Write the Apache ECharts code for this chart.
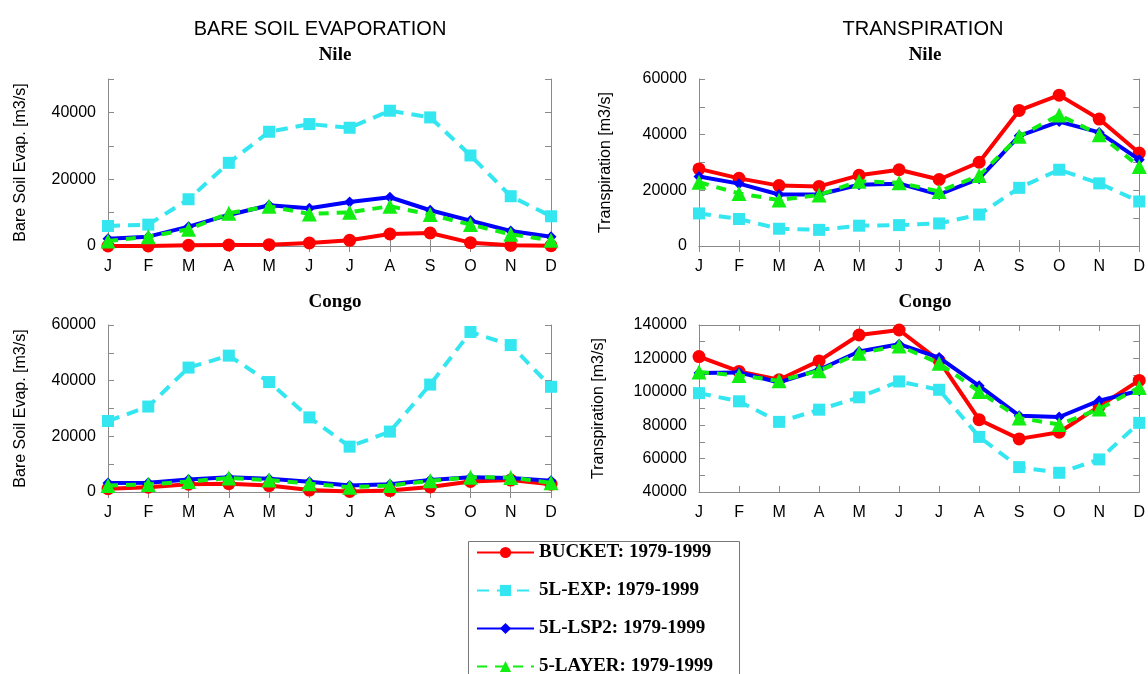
<!DOCTYPE html>
<html>
<head>
<meta charset="utf-8">
<script src="https://cdn.jsdelivr.net/npm/echarts@6/dist/echarts.min.js"></script>
<style>
html,body{margin:0;padding:0;background:#fff;}
#chart{width:1148px;height:674px;}
</style>
</head>
<body>
<div id="chart"></div>
<script>
const months = ['J','F','M','A','M','J','J','A','S','O','N','D'];
const seriesNames = ['BUCKET: 1979-1999','5L-EXP: 1979-1999','5L-LSP2: 1979-1999','5-LAYER: 1979-1999'];

// Nile - bare soil evaporation
const nileEvapBucket = [0, 0, 200, 300, 400, 900, 1700, 3600, 3900, 1000, 200, 100];
const nileEvapExp    = [6000, 6400, 14000, 24900, 34200, 36500, 35400, 40500, 38500, 27100, 14900, 8900];
const nileEvapLsp2   = [2200, 2800, 5800, 9300, 12200, 11300, 13200, 14600, 10700, 7600, 4500, 2800];
const nileEvapLayer  = [1500, 2800, 5000, 9800, 11900, 9600, 10100, 11900, 9400, 6400, 3500, 1700];

// Nile - transpiration
const nileTranBucket = [27700, 24300, 21700, 21400, 25400, 27400, 23900, 30100, 48700, 54200, 45600, 33400];
const nileTranExp    = [11700, 9700, 6200, 5800, 7300, 7500, 8100, 11300, 20900, 27400, 22500, 16000];
const nileTranLsp2   = [25000, 22400, 18500, 18500, 22000, 22400, 18500, 24200, 39600, 44700, 40800, 31000];
const nileTranLayer  = [22900, 18900, 16500, 18300, 23300, 22700, 19600, 25300, 39400, 47100, 40000, 28600];

// Congo - bare soil evaporation
const congoEvapBucket = [1200, 1700, 2800, 3000, 2300, 700, 200, 500, 1800, 3800, 4300, 2800];
const congoEvapExp    = [25500, 30700, 44700, 49000, 39500, 26800, 16300, 21700, 38600, 57500, 52800, 37800];
const congoEvapLsp2   = [3200, 3300, 4500, 5300, 4800, 3700, 2300, 2800, 4300, 5300, 5000, 4000];
const congoEvapLayer  = [2300, 2700, 3800, 5000, 4300, 3000, 1700, 2300, 4000, 5300, 5200, 3300];

// Congo - transpiration
const congoTranBucket = [121100, 112200, 107200, 118500, 134000, 137000, 118700, 83300, 71800, 75800, 91300, 106800];
const congoTranExp    = [99200, 94300, 82000, 89300, 96700, 106200, 101200, 73000, 54900, 51500, 59500, 81400];
const congoTranLsp2   = [111200, 111600, 105600, 113200, 124100, 128500, 120500, 103600, 85700, 84900, 94700, 100600];
const congoTranLayer  = [111800, 109800, 106600, 112600, 123100, 127500, 117100, 100200, 84300, 80400, 89700, 102600];

// y-axis ranges per panel
const yMins = [0, 0, 0, 40000];
const yMaxs = [50000, 60000, 60000, 140000];
const yNames = ['Bare Soil Evap. [m3/s]', 'Transpiration [m3/s]', 'Bare Soil Evap. [m3/s]', 'Transpiration [m3/s]'];

const panelData = [
  [nileEvapBucket, nileEvapExp, nileEvapLsp2, nileEvapLayer],
  [nileTranBucket, nileTranExp, nileTranLsp2, nileTranLayer],
  [congoEvapBucket, congoEvapExp, congoEvapLsp2, congoEvapLayer],
  [congoTranBucket, congoTranExp, congoTranLsp2, congoTranLayer]
];

const grids = [
  {left: 108, top: 79, width: 443, height: 167},
  {left: 699, top: 79, width: 442, height: 167},
  {left: 108, top: 325, width: 443, height: 167},
  {left: 699, top: 325, width: 442, height: 167}
];
const nameGaps = [79, 85, 79, 92];

const boxColor = '#8a8a8a';
const sans = 'Liberation Sans, Arial, Helvetica, sans-serif';
const serif = 'Liberation Serif, Times New Roman, serif';

const styles = [
  {color: '#ff0000', symbol: 'circle', symbolSize: 13, type: 'solid', width: 4},
  {color: '#33e6f0', symbol: 'rect', symbolSize: 12, type: [12, 8], width: 4},
  {color: '#0000ff', symbol: 'diamond', symbolSize: 11, type: 'solid', width: 4},
  {color: '#11ee11', symbol: 'triangle', symbolSize: 15, type: [10, 8], width: 4}
];

const xAxes = [], yAxes = [], series = [];
grids.forEach((g, i) => {
  xAxes.push({
    type: 'category', gridIndex: i, data: months, boundaryGap: false, position: 'bottom',
    axisLine: {show: true, lineStyle: {color: boxColor, width: 1}},
    axisTick: {show: true, inside: true, length: 6, lineStyle: {color: boxColor}},
    axisLabel: {color: '#000', fontSize: 16, fontFamily: sans, margin: 13, interval: 0},
    splitLine: {show: false}
  });
  xAxes.push({
    type: 'category', gridIndex: i, data: months, boundaryGap: false, position: 'top',
    axisLine: {show: true, lineStyle: {color: boxColor, width: 1}},
    axisTick: {show: true, inside: true, length: 6, lineStyle: {color: boxColor}, interval: 0},
    axisLabel: {show: false},
    splitLine: {show: false}
  });
  yAxes.push({
    type: 'value', gridIndex: i, min: yMins[i], max: yMaxs[i], interval: 10000, position: 'left',
    name: yNames[i], nameLocation: 'middle', nameGap: nameGaps[i],
    nameTextStyle: {color: '#000', fontSize: 16, fontFamily: sans},
    axisLine: {show: true, lineStyle: {color: boxColor, width: 1}},
    axisTick: {show: true, inside: true, length: 6, lineStyle: {color: boxColor}},
    axisLabel: {color: '#000', fontSize: 16, fontFamily: sans, margin: 12,
      formatter: v => (v % 20000 === 0 ? String(v) : '')},
    splitLine: {show: false}
  });
  yAxes.push({
    type: 'value', gridIndex: i, min: yMins[i], max: yMaxs[i], interval: 10000, position: 'right',
    axisLine: {show: true, lineStyle: {color: boxColor, width: 1}},
    axisTick: {show: true, inside: true, length: 6, lineStyle: {color: boxColor}},
    axisLabel: {show: false},
    splitLine: {show: false}
  });
  panelData[i].forEach((d, k) => {
    const s = styles[k];
    series.push({
      name: seriesNames[k], type: 'line', xAxisIndex: 2 * i, yAxisIndex: 2 * i,
      data: d, symbol: s.symbol, symbolSize: s.symbolSize, showSymbol: true,
      lineStyle: {color: s.color, width: s.width, type: s.type},
      itemStyle: {color: s.color, borderWidth: 0},
      z: 2 + k, animation: false
    });
  });
});

const legends = seriesNames.map((nm, k) => ({
  data: [nm], orient: 'vertical', left: 476, top: 543 + k * 38,
  itemWidth: 57, itemHeight: 14, padding: 0,
  textStyle: {fontFamily: serif, fontWeight: 'bold', fontSize: 19, color: '#000'}
}));

const chart = echarts.init(document.getElementById('chart'), null, {renderer: 'canvas'});
chart.setOption({
  backgroundColor: '#fff',
  animation: false,
  title: [
    {text: 'BARE SOIL EVAPORATION', left: 315, top: 14, textAlign: 'center',
      textStyle: {fontFamily: sans, fontWeight: 'normal', fontSize: 20, color: '#000'}},
    {text: 'TRANSPIRATION', left: 918, top: 14, textAlign: 'center',
      textStyle: {fontFamily: sans, fontWeight: 'normal', fontSize: 20, color: '#000'}},
    {text: 'Nile', left: 330, top: 41, textAlign: 'center',
      textStyle: {fontFamily: serif, fontWeight: 'bold', fontSize: 19, color: '#000'}},
    {text: 'Nile', left: 920, top: 41, textAlign: 'center',
      textStyle: {fontFamily: serif, fontWeight: 'bold', fontSize: 19, color: '#000'}},
    {text: 'Congo', left: 330, top: 288, textAlign: 'center',
      textStyle: {fontFamily: serif, fontWeight: 'bold', fontSize: 19, color: '#000'}},
    {text: 'Congo', left: 920, top: 288, textAlign: 'center',
      textStyle: {fontFamily: serif, fontWeight: 'bold', fontSize: 19, color: '#000'}}
  ],
  graphic: [{
    type: 'rect', left: 466, top: 539, z: 0,
    shape: {width: 271, height: 200},
    style: {fill: 'none', stroke: '#777', lineWidth: 1}
  }],
  legend: legends,
  grid: grids.map(g => Object.assign({containLabel: false}, g)),
  xAxis: xAxes,
  yAxis: yAxes,
  series: series
});
</script>
</body>
</html>
